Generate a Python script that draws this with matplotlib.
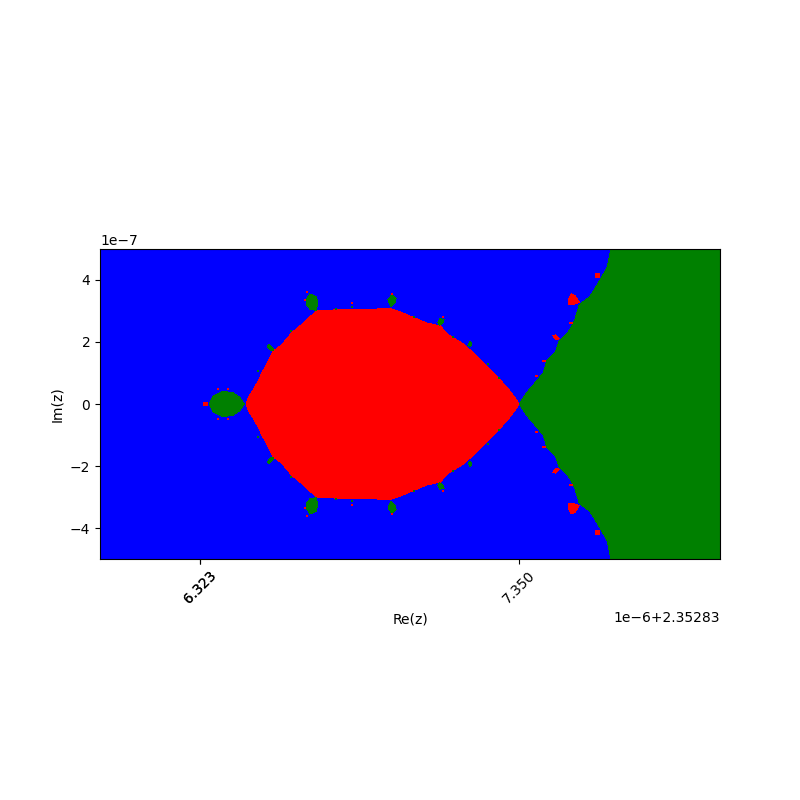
import matplotlib
matplotlib.use('Agg')
import matplotlib.pyplot as plt
import numpy as np

# Re values are in 1e-6 above 2.35283, Im values are in 1e-7
RE_OFFSET = 2.35283
tick_re = [6.323, 6.3232, 7.350]

# main red body, outline going over the top and back under
red_body_re = [6.471, 6.478, 6.495, 6.513, 6.522, 6.543, 6.559, 6.586, 6.618, 6.656, 6.699,
               6.774, 6.871, 6.935, 6.978, 7.016, 7.054, 7.097, 7.124, 7.167, 7.199, 7.247,
               7.290, 7.323, 7.353,
               7.323, 7.290, 7.247, 7.199, 7.167, 7.124, 7.097, 7.054, 7.016, 6.978, 6.935,
               6.871, 6.774, 6.699, 6.656, 6.618, 6.586, 6.559, 6.543, 6.522, 6.513, 6.495,
               6.478]
red_body_im = [0.00, 0.20, 0.47, 0.79, 1.00, 1.38, 1.70, 1.91, 2.29, 2.61, 3.01,
               3.04, 3.05, 3.09, 2.93, 2.77, 2.61, 2.52, 2.23, 1.97, 1.70, 1.22,
               0.79, 0.41, 0.00,
               -0.41, -0.79, -1.22, -1.70, -1.97, -2.23, -2.52, -2.61, -2.77, -2.93, -3.09,
               -3.05, -3.04, -3.01, -2.61, -2.29, -1.91, -1.70, -1.38, -1.00, -0.79, -0.47,
               -0.20]

# green area on the right
green_body_re = [7.353, 7.376, 7.403, 7.430, 7.441, 7.468, 7.481, 7.511, 7.532, 7.546, 7.581,
                 7.604, 7.635, 7.648, 7.652, 8.000, 8.000, 7.652, 7.648, 7.635, 7.604, 7.581,
                 7.546, 7.532, 7.511, 7.481, 7.468, 7.441, 7.430, 7.403, 7.376]
green_body_im = [0.00, 0.36, 0.68, 1.00, 1.38, 1.65, 2.02, 2.32, 2.72, 3.20, 3.47,
                 3.84, 4.38, 4.97, 5.00, 5.00, -5.00, -5.00, -4.97, -4.38, -3.84, -3.47,
                 -3.20, -2.72, -2.32, -2.02, -1.65, -1.38, -1.00, -0.68, -0.36]

# small green islands
green_blobs = [
    ([6.353, 6.365, 6.397, 6.430, 6.452, 6.465, 6.452, 6.430, 6.397, 6.365],
     [0.00, 0.25, 0.41, 0.36, 0.20, 0.00, -0.20, -0.36, -0.41, -0.25]),
    ([6.665, 6.677, 6.697, 6.703, 6.697, 6.677, 6.667],
     [3.36, 3.55, 3.47, 3.25, 3.02, 3.06, 3.20]),
    ([6.665, 6.677, 6.697, 6.703, 6.697, 6.677, 6.667],
     [-3.36, -3.55, -3.47, -3.25, -3.02, -3.06, -3.20]),
    ([6.929, 6.941, 6.955, 6.951, 6.938],
     [3.36, 3.52, 3.41, 3.25, 3.14]),
    ([6.929, 6.941, 6.955, 6.951, 6.938],
     [-3.36, -3.52, -3.41, -3.25, -3.14]),
    ([7.090, 7.097, 7.110, 7.106, 7.095],
     [2.62, 2.75, 2.72, 2.60, 2.54]),
    ([7.090, 7.097, 7.110, 7.106, 7.095],
     [-2.62, -2.75, -2.72, -2.60, -2.54]),
    ([7.187, 7.193, 7.200, 7.195],
     [1.90, 2.01, 1.97, 1.85]),
    ([7.187, 7.193, 7.200, 7.195],
     [-1.90, -2.01, -1.97, -1.85]),
    ([6.539, 6.545, 6.561, 6.552],
     [1.87, 1.91, 1.75, 1.72]),
    ([6.539, 6.545, 6.561, 6.552],
     [-1.87, -1.91, -1.75, -1.72]),
]

# small red islands next to the green area
red_blobs = [
    ([6.332, 6.348, 6.348, 6.332], [-0.05, -0.05, 0.08, 0.08]),
    ([7.510, 7.520, 7.532, 7.546, 7.530, 7.512], [3.35, 3.55, 3.50, 3.28, 3.22, 3.22]),
    ([7.510, 7.520, 7.532, 7.546, 7.530, 7.512], [-3.35, -3.55, -3.50, -3.28, -3.22, -3.22]),
    ([7.461, 7.470, 7.481, 7.470], [2.20, 2.23, 2.10, 2.07]),
    ([7.461, 7.470, 7.481, 7.470], [-2.20, -2.23, -2.10, -2.07]),
    ([7.597, 7.613, 7.613, 7.597], [4.07, 4.07, 4.23, 4.23]),
    ([7.597, 7.613, 7.613, 7.597], [-4.07, -4.07, -4.23, -4.23]),
    ([7.426, 7.439, 7.439, 7.426], [1.37, 1.37, 1.43, 1.43]),
    ([7.426, 7.439, 7.439, 7.426], [-1.37, -1.37, -1.43, -1.43]),
    ([7.403, 7.413, 7.413, 7.403], [0.88, 0.88, 0.95, 0.95]),
    ([7.403, 7.413, 7.413, 7.403], [-0.88, -0.88, -0.95, -0.95]),
    ([7.513, 7.526, 7.526, 7.513], [2.59, 2.59, 2.65, 2.65]),
    ([7.513, 7.526, 7.526, 7.513], [-2.59, -2.59, -2.65, -2.65]),
]

# single specks
green_speck_re = [6.812, 6.760, 6.615, 6.510, 7.013, 7.138, 7.251, 7.287,
                  6.812, 6.760, 6.615, 6.510, 7.013, 7.138, 7.251, 7.287]
green_speck_im = [3.14, 3.05, 2.35, 1.05, 2.82, 2.16, 1.28, 0.85,
                  -3.14, -3.05, -2.35, -1.05, -2.82, -2.16, -1.28, -0.85]
red_speck_re = [6.380, 6.414, 6.667, 6.661, 6.943, 7.105, 6.814,
                6.380, 6.414, 6.667, 6.661, 6.943, 7.105, 6.814]
red_speck_im = [0.49, 0.47, 3.61, 3.34, 3.55, 2.82, 3.27,
                -0.49, -0.47, -3.61, -3.34, -3.55, -2.82, -3.27]


def to_x(re):
    return RE_OFFSET + np.array(re) * 1e-6


def to_y(im):
    return np.array(im) * 1e-7


fig, ax = plt.subplots(figsize=(8, 8), dpi=100)
ax.set_facecolor('blue')

ax.fill(to_x(red_body_re), to_y(red_body_im), color='red', lw=0, antialiased=False)
ax.fill(to_x(green_body_re), to_y(green_body_im), color='green', lw=0, antialiased=False)
for re, im in green_blobs:
    ax.fill(to_x(re), to_y(im), color='green', lw=0, antialiased=False)
for re, im in red_blobs:
    ax.fill(to_x(re), to_y(im), color='red', lw=0, antialiased=False)
ax.scatter(to_x(green_speck_re), to_y(green_speck_im), s=2.5, c='green', marker='s', linewidths=0)
ax.scatter(to_x(red_speck_re), to_y(red_speck_im), s=2.5, c='red', marker='s', linewidths=0)

ax.set_xlim(RE_OFFSET + 6e-6, RE_OFFSET + 8e-6)
ax.set_ylim(-5e-7, 5e-7)
ax.set_aspect('equal')
ax.set_xticks(to_x(tick_re))
ax.tick_params(axis='x', labelrotation=45)
ax.set_xlabel('Re(z)')
ax.set_ylabel('Im(z)')

plt.savefig('out.png', dpi=100)
